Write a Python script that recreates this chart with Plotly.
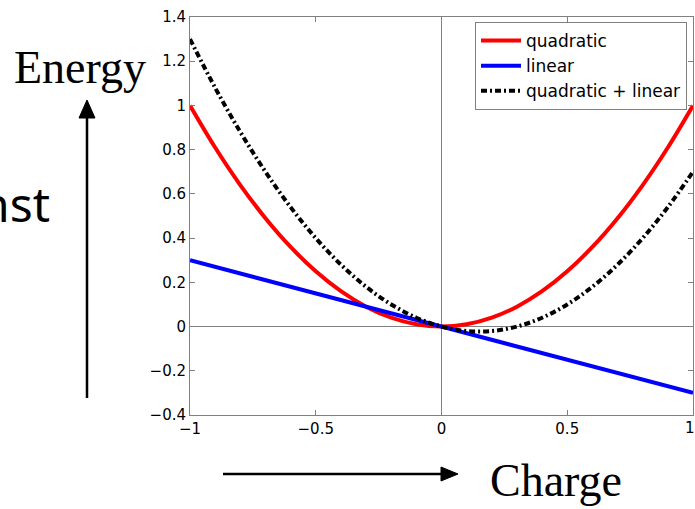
import plotly.graph_objects as go

# ---- data ----
charge = [-1.0, -0.9, -0.8, -0.7, -0.6, -0.5, -0.4, -0.3, -0.2, -0.1, 0.0,
          0.1, 0.2, 0.3, 0.4, 0.5, 0.6, 0.7, 0.8, 0.9, 1.0]
quadratic = [1.00, 0.81, 0.64, 0.49, 0.36, 0.25, 0.16, 0.09, 0.04, 0.01, 0.00,
             0.01, 0.04, 0.09, 0.16, 0.25, 0.36, 0.49, 0.64, 0.81, 1.00]
linear_x = [-1.0, 1.0]
linear = [0.30, -0.30]
combined = [1.30, 1.08, 0.88, 0.70, 0.54, 0.40, 0.28, 0.18, 0.10, 0.04, 0.00,
            -0.02, -0.02, 0.00, 0.04, 0.10, 0.18, 0.28, 0.40, 0.54, 0.70]

x_ticks = [-1, -0.5, 0, 0.5, 1]
x_tick_text = ["\u22121", "\u22120.5", "0", "0.5", "1"]
y_ticks = [-0.4, -0.2, 0, 0.2, 0.4, 0.6, 0.8, 1.0, 1.2, 1.4]
y_tick_text = ["\u22120.4", "\u22120.2", "0", "0.2", "0.4", "0.6", "0.8", "1", "1.2", "1.4"]

# ---- layout geometry (pixels) ----
W, H = 695, 509
L, R, T, B = 190, 693, 17, 415
PW, PH = R - L, B - T


def px(x):
    return (x - L) / PW


def py(y):
    return (B - y) / PH


GRAY = "#808080"
SANS = "DejaVu Sans, Liberation Sans, Arial, sans-serif"
SERIF = "Liberation Serif, Times New Roman, serif"

fig = go.Figure()
fig.add_trace(go.Scatter(x=charge, y=quadratic, mode="lines", name="quadratic",
                         line=dict(color="#ff0000", width=4, shape="spline")))
fig.add_trace(go.Scatter(x=linear_x, y=linear, mode="lines", name="linear",
                         line=dict(color="#0000ff", width=4)))
fig.add_trace(go.Scatter(x=charge, y=combined, mode="lines", name="quadratic + linear",
                         line=dict(color="#000000", width=4, shape="spline",
                                   dash="6px,3px,2px,3px")))

axis_common = dict(showline=True, linecolor=GRAY, linewidth=1, mirror="ticks",
                   ticks="inside", ticklen=5, tickcolor=GRAY, showgrid=False,
                   zeroline=True, zerolinecolor=GRAY, zerolinewidth=1,
                   tickfont=dict(family=SANS, size=15, color="black"))

fig.update_xaxes(range=[-1, 1], tickvals=x_ticks, ticktext=x_tick_text, **axis_common)
fig.update_yaxes(range=[-0.4, 1.4], tickvals=y_ticks, ticktext=y_tick_text, **axis_common)

shapes = [
    # vertical arrow
    dict(type="line", xref="paper", yref="paper", x0=px(87), x1=px(87), y0=py(398), y1=py(114),
         line=dict(color="black", width=2.5)),
    dict(type="path", xref="paper", yref="paper",
         path=f"M {px(79)} {py(118)} L {px(87)} {py(100)} L {px(95)} {py(118)} Z",
         fillcolor="black", line=dict(color="black", width=1)),
    # horizontal arrow
    dict(type="line", xref="paper", yref="paper", x0=px(223), x1=px(444), y0=py(474), y1=py(474),
         line=dict(color="black", width=2.5)),
    dict(type="path", xref="paper", yref="paper",
         path=f"M {px(441)} {py(467)} L {px(458)} {py(474)} L {px(441)} {py(481)} Z",
         fillcolor="black", line=dict(color="black", width=1)),
]

annotations = [
    dict(text="Energy", xref="paper", yref="paper", x=px(12), y=py(67), xanchor="left",
         yanchor="middle", showarrow=False,
         font=dict(family=SERIF, size=46, color="black")),
    dict(text="Charge", xref="paper", yref="paper", x=px(488), y=py(480), xanchor="left",
         yanchor="middle", showarrow=False,
         font=dict(family=SERIF, size=46, color="black")),
    dict(text="nst", xref="paper", yref="paper", x=px(52), y=py(203), xanchor="right",
         yanchor="middle", showarrow=False,
         font=dict(family="Noto Sans, sans-serif", size=48, color="black")),
    # last x tick label (plotly hides it because it touches the page edge)
    dict(text=x_tick_text[-1], xref="x", yref="paper", x=x_ticks[-1], xshift=-3,
         y=py(428), xanchor="center", yanchor="middle", showarrow=False,
         font=dict(family=SANS, size=15, color="black")),
]

fig.update_layout(
    width=W, height=H,
    margin=dict(l=L, r=W - R, t=T, b=H - B, pad=0),
    paper_bgcolor="white", plot_bgcolor="white",
    showlegend=True,
    legend=dict(x=px(687), y=py(22), xanchor="right", yanchor="top",
                bgcolor="white", bordercolor=GRAY, borderwidth=1,
                font=dict(family=SANS, size=17, color="black"),
                itemwidth=40, tracegroupgap=0),
    shapes=shapes,
    annotations=annotations,
)

fig.write_html("out.html")
